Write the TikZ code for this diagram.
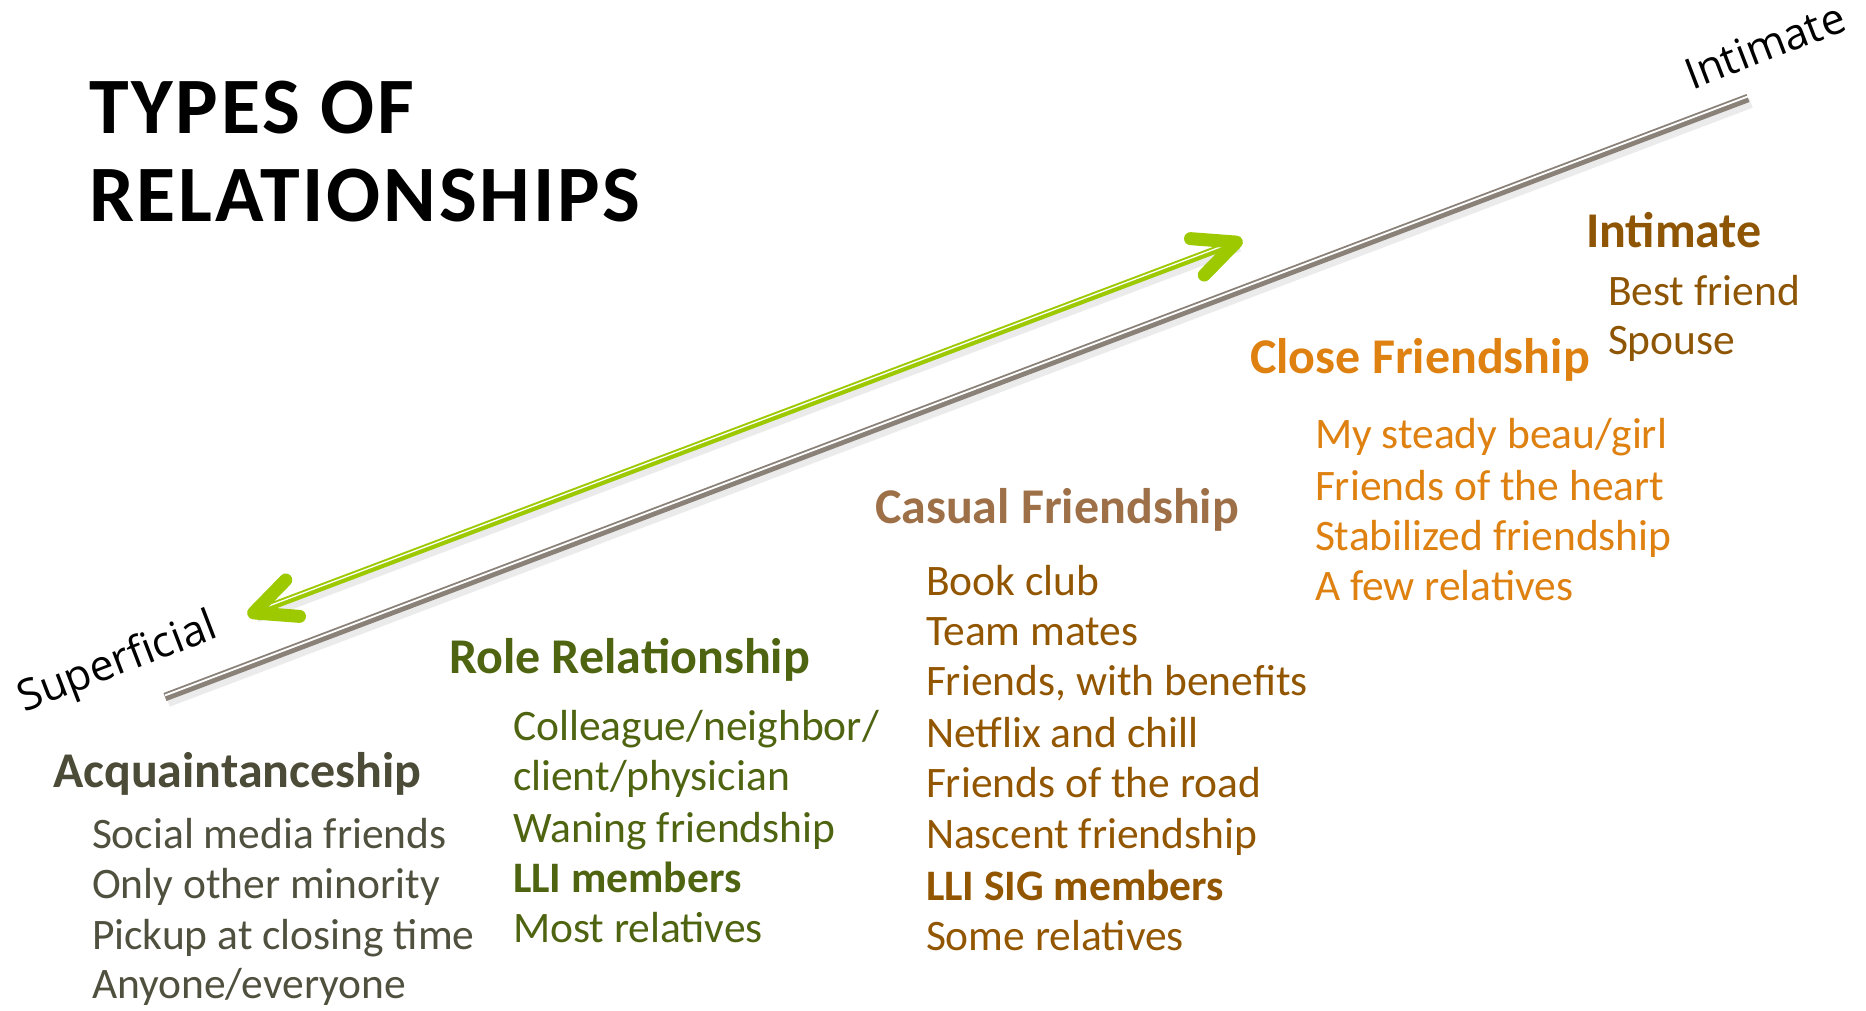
\documentclass[tikz,border=0pt]{standalone}
\usepackage{fontspec}
\setmainfont{Carlito}
\newfontfamily\osans{Open Sans}
\newfontfamily\titlefont[LetterSpace=3.5]{Carlito}
\usetikzlibrary{calc}
\definecolor{axisgray}{HTML}{8A8178}
\definecolor{arrowgreen}{HTML}{9CC900}
\definecolor{acqhead}{HTML}{4B4B37}
\definecolor{acqitem}{HTML}{50503F}
\definecolor{rolecol}{HTML}{4F6410}
\definecolor{casualhead}{HTML}{9E7048}
\definecolor{casualitem}{HTML}{935600}
\definecolor{closecol}{HTML}{DE8110}
\definecolor{intimcol}{HTML}{8E5504}
\tikzset{
  txt/.style={anchor=base west, inner sep=0pt, outer sep=0pt},
  head/.style={txt, font=\fontsize{50}{58}\selectfont\bfseries},
  item/.style={txt, font=\fontsize{43.5}{50}\selectfont},
  bolditem/.style={txt, font=\fontsize{43.5}{50}\selectfont\bfseries},
  endlabel/.style={txt, font=\osans\fontsize{43}{50}\selectfont, rotate=21},
  titletxt/.style={txt, font=\titlefont\fontsize{80}{90}\selectfont\bfseries}
}
\begin{document}
\begin{tikzpicture}[x=1pt,y=-1pt]
\useasboundingbox[fill=white] (0,0) rectangle (1866,1010);
% title
\node[titletxt] (t1) at (89,133) {TYPES OF};
\node[titletxt] (t2) at (89,221) {RELATIONSHIPS};
% axis line
\coordinate (lo) at (165,697);
\coordinate (hi) at (1748,98);
\draw[line width=10pt, black!15, opacity=0.5] ([shift={(3,5)}]lo) -- ([shift={(3,5)}]hi);
\draw[line width=8.5pt, axisgray] (lo) -- (hi);
\draw[line width=1.8pt, white] ([shift={(0,-1.6)}]lo) -- ([shift={(0,-1.6)}]hi);
% green double arrow
\coordinate (ga) at (248,615);
\coordinate (gb) at (1242,240);
\coordinate (pa) at ($(ga)!6pt!(gb)$);
\coordinate (pb) at ($(gb)!6pt!(ga)$);
\draw[line width=9pt, black!15, opacity=0.5] ([shift={(3,5)}]pa) -- ([shift={(3,5)}]pb);
\draw[line width=7.5pt, arrowgreen] (pa) -- (pb);
\draw[line width=1.3pt, white] ([shift={(0,-1.2)}]pa) -- ([shift={(0,-1.2)}]pb);
\draw[line width=13pt, arrowgreen, line cap=round, line join=round]
  ($(pa)!46pt!25:(pb)$) -- (pa) -- ($(pa)!46pt!-25:(pb)$);
\draw[line width=13pt, arrowgreen, line cap=round, line join=round]
  ($(pb)!46pt!25:(pa)$) -- (pb) -- ($(pb)!46pt!-25:(pa)$);
% end labels
\node[endlabel] (sup) at (24,712) {Superficial};
\node[endlabel] (int) at (1692,90) {Intimate};
% Acquaintanceship
\node[head, text=acqhead] (acq) at (53,787) {Acquaintanceship};
\node[item, text=acqitem] (a1) at (92,848) {Social media friends};
\node[item, text=acqitem] (a2) at (92,898) {Only other minority};
\node[item, text=acqitem] (a3) at (92,949) {Pickup at closing time};
\node[item, text=acqitem] (a4) at (92,998) {Anyone/everyone};
% Role Relationship
\node[head, text=rolecol] (role) at (449,673) {Role Relationship};
\node[item, text=rolecol] (r1) at (513,740) {Colleague/neighbor/};
\node[item, text=rolecol] (r2) at (513,790) {client/physician};
\node[item, text=rolecol] (r3) at (513,842) {Waning friendship};
\node[bolditem, text=rolecol] (r4) at (513,892) {LLI members};
\node[item, text=rolecol] (r5) at (513,942) {Most relatives};
% Casual Friendship
\node[head, text=casualhead] (cas) at (875,523) {Casual Friendship};
\node[item, text=casualitem] (c1) at (926,595) {Book club};
\node[item, text=casualitem] (c2) at (926,645) {Team mates};
\node[item, text=casualitem] (c3) at (926,695) {Friends, with benefits};
\node[item, text=casualitem] (c4) at (926,747) {Netflix and chill};
\node[item, text=casualitem] (c5) at (926,797) {Friends of the road};
\node[item, text=casualitem] (c6) at (926,848) {Nascent friendship};
\node[bolditem, text=casualitem] (c7) at (926,900) {LLI SIG members};
\node[item, text=casualitem] (c8) at (926,950) {Some relatives};
% Close Friendship
\node[head, text=closecol] (clo) at (1250,373) {Close Friendship};
\node[item, text=closecol] (f1) at (1315,448) {My steady beau/girl};
\node[item, text=closecol] (f2) at (1315,500) {Friends of the heart};
\node[item, text=closecol] (f3) at (1315,550) {Stabilized friendship};
\node[item, text=closecol] (f4) at (1315,600) {A few relatives};
% Intimate
\node[head, text=intimcol] (ih) at (1586,247) {Intimate};
\node[item, text=intimcol] (i1) at (1608,305) {Best friend};
\node[item, text=intimcol] (i2) at (1608,354) {Spouse};
\end{tikzpicture}
\end{document}
